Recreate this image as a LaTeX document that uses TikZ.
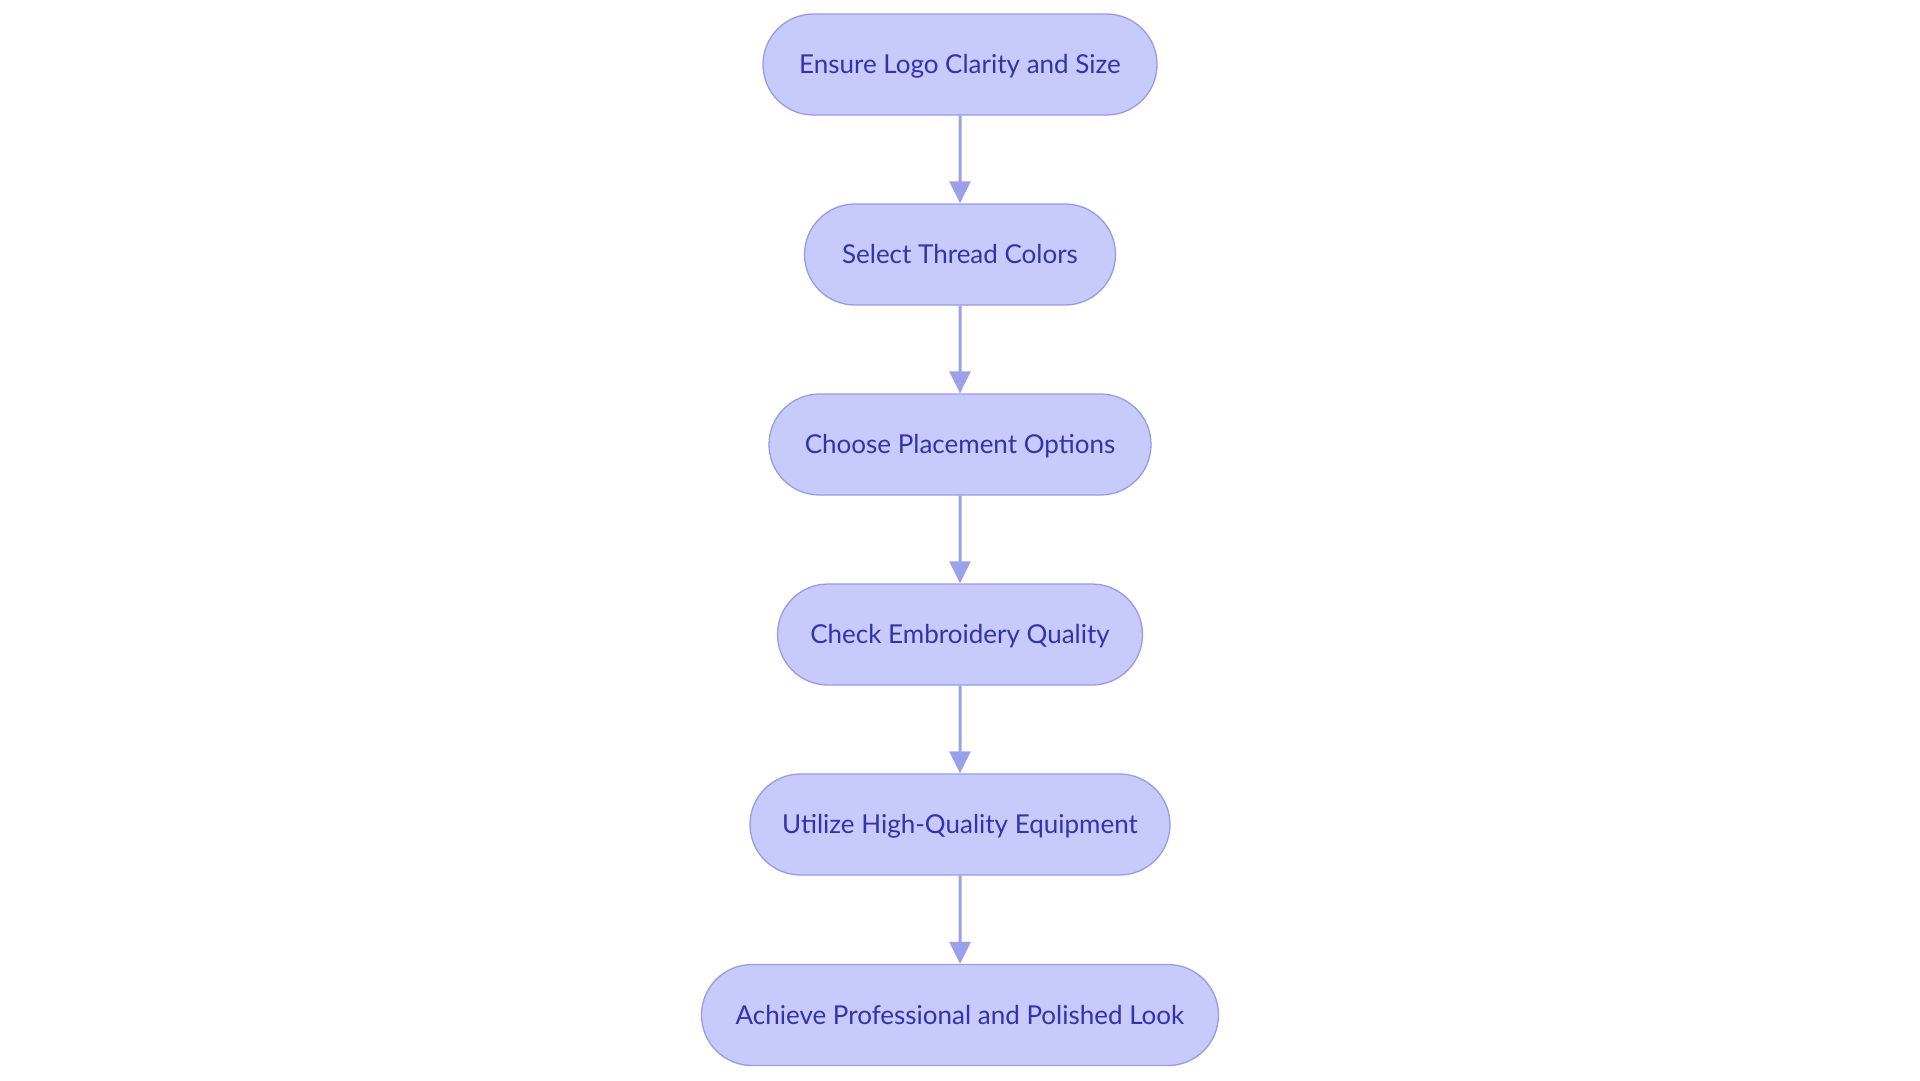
\documentclass[tikz,border=0pt]{standalone}
\usepackage{fontspec}
\setmainfont{Lato}
\usetikzlibrary{shapes.misc,arrows.meta}
\definecolor{boxfill}{RGB}{200,202,252}
\definecolor{boxline}{RGB}{150,155,232}
\definecolor{arrowcol}{RGB}{155,160,235}
\definecolor{txtcol}{RGB}{50,50,175}
\tikzset{
  stepbox/.style={rounded rectangle, draw=boxline, fill=boxfill, line width=1.3pt,
    minimum height=101pt, inner xsep=0pt, inner ysep=0pt, text height=18.6pt, text depth=0pt,
    text=txtcol, font=\fontsize{26}{30}\selectfont},
  flow/.style={draw=arrowcol, line width=3pt, -{Triangle[length=22pt,width=21pt]}, shorten >=0pt}
}
\begin{document}
\begin{tikzpicture}[x=1pt,y=-1pt]
\useasboundingbox (0,0) rectangle (1920,1080);
\node[stepbox, minimum width=394pt] (n1) at (960,64.5) {Ensure Logo Clarity and Size};
\node[stepbox, minimum width=311pt] (n2) at (960,254.5) {Select Thread Colors};
\node[stepbox, minimum width=382pt] (n3) at (960,444.5) {Choose Placement Options};
\node[stepbox, minimum width=365pt] (n4) at (960,634.5) {Check Embroidery Quality};
\node[stepbox, minimum width=420pt] (n5) at (960,824.5) {Utilize High-Quality Equipment};
\node[stepbox, minimum width=517pt] (n6) at (960,1015) {Achieve Professional and Polished Look};
\draw[flow] (n1) -- (n2);
\draw[flow] (n2) -- (n3);
\draw[flow] (n3) -- (n4);
\draw[flow] (n4) -- (n5);
\draw[flow] (n5) -- (n6);
\end{tikzpicture}
\end{document}
